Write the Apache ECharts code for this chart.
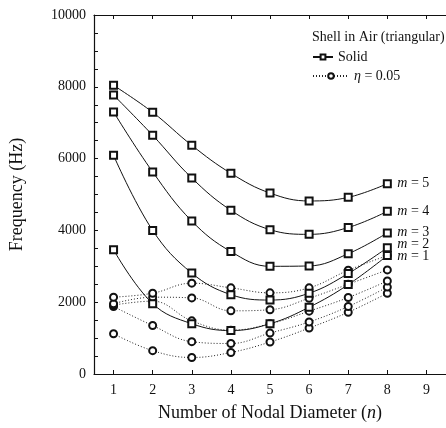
<!DOCTYPE html>
<html>
<head>
<meta charset="utf-8">
<script src="https://cdn.jsdelivr.net/npm/echarts@6/dist/echarts.min.js"></script>
<style>
  html, body { margin: 0; padding: 0; background: #fff; }
  #chart { width: 446px; height: 428px; }
</style>
</head>
<body>
<div id="chart"></div>
<script>
// nodal diameter n (category axis 1..9)
const nodal = ['1', '2', '3', '4', '5', '6', '7', '8', '9']
const yTicks = [0, 2000, 4000, 6000, 8000, 10000]

// solid shell, modes m = 1..5
const solidM1 = [3460, 1960, 1400, 1210, 1400, 1860, 2490, 3300]
const solidM2 = [6090, 4000, 2810, 2210, 2060, 2250, 2800, 3520]
const solidM3 = [7300, 5630, 4260, 3410, 3000, 3010, 3350, 3930]
const solidM4 = [7770, 6650, 5460, 4560, 4020, 3890, 4080, 4530]
const solidM5 = [8040, 7290, 6370, 5590, 5040, 4820, 4920, 5300]

// eta = 0.05
const etaM1 = [1120, 650, 460, 600, 890, 1280, 1720, 2250]
const etaM2 = [1880, 1350, 900, 850, 1140, 1450, 1880, 2420]
const etaM3 = [1920, 2030, 1480, 1220, 1400, 1750, 2130, 2590]
const etaM4 = [1960, 2140, 2120, 1760, 1790, 2110, 2500, 2900]
const etaM5 = [2140, 2250, 2530, 2400, 2260, 2400, 2890, 3300]

const FONT = 'Liberation Serif'
const solidSets = [solidM1, solidM2, solidM3, solidM4, solidM5]
const etaSets = [etaM1, etaM2, etaM3, etaM4, etaM5]
// small label nudges so m = 1/2/3 don't collide
const labelOffsets = [[0, 1], [0, -3], [0, -1], [0, 0], [0, 0]]

let series = []
etaSets.forEach((d, i) => {
  series.push({
    name: 'eta',
    type: 'line',
    data: d,
    smooth: 0.4,
    symbol: 'emptyCircle',
    symbolSize: 7,
    itemStyle: { color: '#111', borderWidth: 1 },
    lineStyle: { color: '#222', width: 1, type: [1, 2] },
    z: 2
  })
})
solidSets.forEach((d, i) => {
  series.push({
    name: 'Solid',
    type: 'line',
    data: d,
    smooth: 0.4,
    symbol: 'emptyRect',
    symbolSize: 7,
    itemStyle: { color: '#111', borderWidth: 0.9 },
    lineStyle: { color: '#111', width: 1 },
    z: 3,
    endLabel: {
      show: true,
      distance: 10,
      offset: labelOffsets[i],
      formatter: '{i|m} = ' + (i + 1),
      fontFamily: FONT,
      fontSize: 14,
      color: '#111',
      rich: { i: { fontStyle: 'italic', fontFamily: FONT, fontSize: 14, color: '#111' } }
    }
  })
})

const tickStyle = { show: true, inside: true, length: 4, alignWithLabel: true, lineStyle: { color: '#111' } }
const lineStyleAxis = { show: true, onZero: false, lineStyle: { color: '#111', width: 1.2 } }

const option = {
  animation: false,
  backgroundColor: '#fff',
  title: {
    text: 'Shell in Air (triangular)',
    left: 307,
    top: 25,
    textStyle: { fontFamily: FONT, fontSize: 14, fontWeight: 'normal', color: '#111' }
  },
  legend: [{
    data: ['Solid'],
    left: 307,
    top: 45,
    itemWidth: 20,
    itemHeight: 6,
    textStyle: { fontFamily: FONT, fontSize: 14, color: '#111' }
  }, {
    data: ['eta'],
    left: 307,
    top: 64,
    itemWidth: 36,
    itemHeight: 7,
    formatter: () => '{i|η} = 0.05',
    textStyle: {
      fontFamily: FONT,
      fontSize: 14,
      color: '#111',
      rich: { i: { fontStyle: 'italic', fontFamily: FONT, fontSize: 14, color: '#111' } }
    }
  }],
  grid: { left: 89, top: 15, width: 360, height: 359 },
  xAxis: [{
    type: 'category',
    data: nodal,
    boundaryGap: true,
    name: 'Number of Nodal Diameter ({i|n})',
    nameLocation: 'middle',
    nameGap: 30,
    nameTextStyle: {
      fontFamily: FONT,
      fontSize: 18,
      color: '#111',
      rich: { i: { fontStyle: 'italic', fontFamily: FONT, fontSize: 18, color: '#111' } }
    },
    axisLine: lineStyleAxis,
    axisTick: tickStyle,
    axisLabel: { interval: 0, margin: 9, fontFamily: FONT, fontSize: 14, color: '#111' },
    splitLine: { show: false }
  }, {
    type: 'category',
    data: nodal,
    position: 'top',
    boundaryGap: true,
    axisLine: lineStyleAxis,
    axisTick: tickStyle,
    axisLabel: { show: false },
    splitLine: { show: false }
  }],
  yAxis: {
    type: 'value',
    min: yTicks[0],
    max: yTicks[yTicks.length - 1],
    interval: 2000,
    name: 'Frequency (Hz)',
    nameLocation: 'middle',
    nameGap: 68,
    nameTextStyle: { fontFamily: FONT, fontSize: 18, color: '#111' },
    axisLine: lineStyleAxis,
    axisTick: { show: true, inside: true, length: 4, lineStyle: { color: '#111' } },
    minorTick: { show: true, splitNumber: 4, length: 4, lineStyle: { color: '#111' } },
    axisLabel: { margin: 8, fontFamily: FONT, fontSize: 14, color: '#111', formatter: v => String(v) },
    splitLine: { show: false }
  },
  series: series
}

const chart = echarts.init(document.getElementById('chart'))
chart.setOption(option)
</script>
</body>
</html>
